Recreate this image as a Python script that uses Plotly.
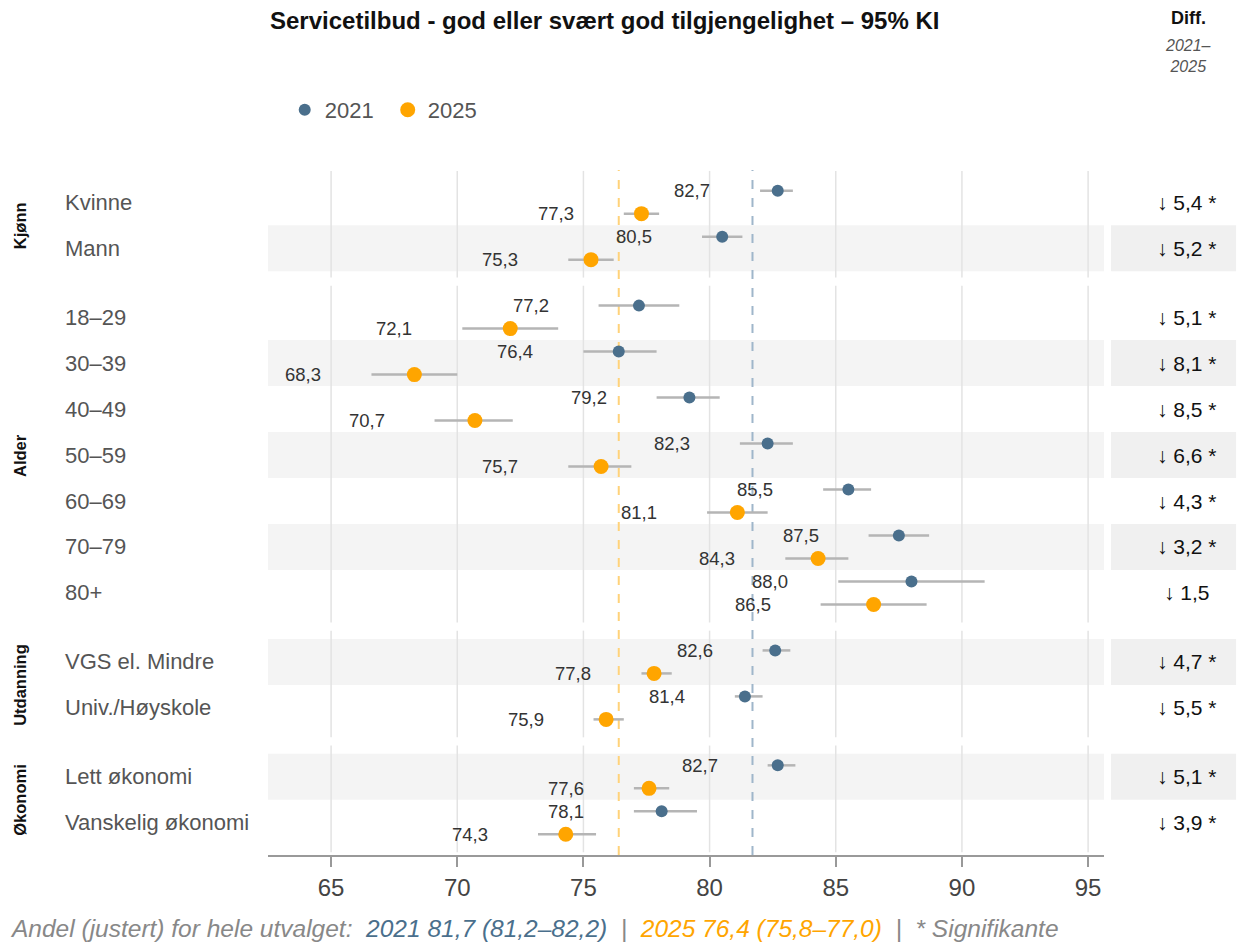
import plotly.graph_objects as go

# ---------------- data ----------------
categories = ["Kvinne", "Mann", "18–29", "30–39", "40–49", "50–59", "60–69", "70–79", "80+",
              "VGS el. Mindre", "Univ./Høyskole", "Lett økonomi", "Vanskelig økonomi"]
groups = ["Kjønn", "Kjønn", "Alder", "Alder", "Alder", "Alder", "Alder", "Alder", "Alder",
          "Utdanning", "Utdanning", "Økonomi", "Økonomi"]

v2021 = [82.7, 80.5, 77.2, 76.4, 79.2, 82.3, 85.5, 87.5, 88.0, 82.6, 81.4, 82.7, 78.1]
lo2021 = [82.0, 79.7, 75.6, 75.0, 77.9, 81.2, 84.5, 86.3, 85.1, 82.1, 81.0, 82.3, 77.0]
hi2021 = [83.3, 81.3, 78.8, 77.9, 80.4, 83.3, 86.4, 88.7, 90.9, 83.2, 82.1, 83.4, 79.5]

v2025 = [77.3, 75.3, 72.1, 68.3, 70.7, 75.7, 81.1, 84.3, 86.5, 77.8, 75.9, 77.6, 74.3]
lo2025 = [76.6, 74.4, 70.2, 66.6, 69.1, 74.4, 79.9, 83.0, 84.4, 77.3, 75.4, 77.0, 73.2]
hi2025 = [78.0, 76.2, 74.0, 70.0, 72.2, 76.9, 82.3, 85.5, 88.6, 78.5, 76.6, 78.4, 75.5]

diff_values = [5.4, 5.2, 5.1, 8.1, 8.5, 6.6, 4.3, 3.2, 1.5, 4.7, 5.5, 5.1, 3.9]
diff_signif = [True, True, True, True, True, True, True, True, False, True, True, True, True]

total_2021 = (81.7, 81.2, 82.2)
total_2025 = (76.4, 75.8, 77.0)

tick_values = [65, 70, 75, 80, 85, 90, 95]

# ---------------- style ----------------
C21 = "#4a6f8c"
C25 = "#FFA500"
CI_COLOR = "#b5b5b5"
BAND = "#f4f4f4"
FONT = "Liberation Sans, Arial, sans-serif"


def fmt(v):
    return f"{v:.1f}".replace(".", ",")


# row positions with gaps between groups
pos = []
gi = -1
prev = None
for i, g in enumerate(groups):
    if g != prev:
        gi += 1
        prev = g
    pos.append(i + 0.5 * gi)

OFF = 0.25
y21 = [p - OFF for p in pos]
y25 = [p + OFF for p in pos]

fig = go.Figure()


def ci_trace(lo, hi, ys):
    xs, yy = [], []
    for a, b, y in zip(lo, hi, ys):
        xs += [a, b, None]
        yy += [y, y, None]
    return go.Scatter(x=xs, y=yy, mode="lines", line=dict(color=CI_COLOR, width=2.5),
                      hoverinfo="skip", showlegend=False)


fig.add_trace(ci_trace(lo2021, hi2021, y21))
fig.add_trace(ci_trace(lo2025, hi2025, y25))

fig.add_trace(go.Scatter(x=v2021, y=y21, mode="markers", name="2021",
                         marker=dict(color=C21, size=12)))
fig.add_trace(go.Scatter(x=v2025, y=y25, mode="markers", name="2025",
                         marker=dict(color=C25, size=15)))

shapes = []
annotations = []

DIFF_X = 1.099

# bands (odd rows)
for i, p in enumerate(pos):
    if i % 2 == 1:
        shapes.append(dict(type="rect", xref="paper", yref="y", x0=0, x1=1,
                           y0=p - 0.5, y1=p + 0.5, fillcolor=BAND, line_width=0, layer="below"))
        shapes.append(dict(type="rect", xref="paper", yref="y", x0=1.0084, x1=1.158,
                           y0=p - 0.5, y1=p + 0.5, fillcolor="#f0f0f0", line_width=0, layer="below"))

# gridlines per group + group labels
group_names = []
for g in groups:
    if g not in group_names:
        group_names.append(g)
for g in group_names:
    ps = [p for p, gg in zip(pos, groups) if gg == g]
    for t in tick_values:
        shapes.append(dict(type="line", xref="x", yref="y", x0=t, x1=t,
                           y0=min(ps) - 0.68, y1=max(ps) + 0.64,
                           line=dict(color="#e3e3e3", width=1.5), layer="below"))
    annotations.append(dict(text=f"<b>{g}</b>", xref="paper", yref="y",
                            x=-0.2967, y=sum(ps) / len(ps), textangle=-90,
                            xanchor="center", yanchor="middle",
                            showarrow=False, font=dict(size=16.5, color="#111", family=FONT)))

# reference lines for total
shapes.append(dict(type="line", xref="x", yref="paper", x0=total_2025[0], x1=total_2025[0],
                   y0=0, y1=1, line=dict(color="#ffd27a", width=2, dash="dash"), layer="below"))
shapes.append(dict(type="line", xref="x", yref="paper", x0=total_2021[0], x1=total_2021[0],
                   y0=0, y1=1, line=dict(color="#9fb6ca", width=2, dash="dash"), layer="below"))

# row labels, value labels, diff column
for i, p in enumerate(pos):
    annotations.append(dict(text=categories[i], xref="paper", yref="y", x=-0.2452, y=p,
                            xanchor="left", showarrow=False,
                            font=dict(size=22, color="#555", family=FONT)))
    annotations.append(dict(text=fmt(v2021[i]), xref="x", yref="y", x=lo2021[i], y=y21[i],
                            xanchor="right", xshift=-48, showarrow=False,
                            font=dict(size=18.5, color="#333", family=FONT)))
    annotations.append(dict(text=fmt(v2025[i]), xref="x", yref="y", x=lo2025[i], y=y25[i],
                            xanchor="right", xshift=-48, showarrow=False,
                            font=dict(size=18.5, color="#333", family=FONT)))
    d = diff_values[i]
    arrow = "↓" if d > 0 else "↑"
    txt = f"{arrow} {fmt(abs(d))}" + (" *" if diff_signif[i] else "")
    annotations.append(dict(text=txt, xref="paper", yref="y", x=DIFF_X, y=p,
                            xanchor="center", showarrow=False,
                            font=dict(size=21, color="#111", family=FONT)))

# title and headers
annotations.append(dict(text="<b>Servicetilbud - god eller svært god tilgjengelighet – 95% KI</b>",
                        xref="paper", yref="paper", x=0, y=(855 - 20) / 685,
                        xanchor="left", yanchor="middle", showarrow=False,
                        font=dict(size=24, color="#111", family=FONT)))
annotations.append(dict(text="<b>Diff.</b>", xref="paper", yref="paper", x=1.1005,
                        y=(855 - 18) / 685, xanchor="center", yanchor="middle", showarrow=False,
                        font=dict(size=18, color="#111", family=FONT)))
annotations.append(dict(text="<i>2021–<br>2025</i>", xref="paper", yref="paper", x=1.1005,
                        y=(855 - 56) / 685, xanchor="center", yanchor="middle", showarrow=False,
                        font=dict(size=16, color="#555", family=FONT)))


def trip(t):
    return f"{fmt(t[0])} ({fmt(t[1])}–{fmt(t[2])})"


footer = ("<i>Andel (justert) for hele utvalget:  "
          f"<span style='color:{C21}'>2021 {trip(total_2021)}</span>  |  "
          f"<span style='color:{C25}'>2025 {trip(total_2025)}</span>  |  * Signifikante</i>")
annotations.append(dict(text=footer, xref="paper", yref="paper", x=-0.3115,
                        y=(855 - 928) / 685, xanchor="left", yanchor="middle",
                        showarrow=False, font=dict(size=24.5, color="#888", family=FONT)))

fig.update_layout(
    width=1237, height=944,
    margin=dict(l=268, r=133, t=170, b=89),
    paper_bgcolor="white", plot_bgcolor="white",
    font=dict(family=FONT),
    shapes=shapes, annotations=annotations,
    showlegend=True,
    legend=dict(orientation="h", x=0.02, y=(855 - 110) / 685, xanchor="left", yanchor="middle",
                font=dict(size=22, color="#555", family=FONT), itemsizing="trace",
                entrywidth=58),
    xaxis=dict(range=[62.5, 95.63], tickvals=tick_values, showgrid=False, zeroline=False,
               showline=True, linecolor="#999", linewidth=1.5, ticks="outside", ticklen=10,
               tickcolor="#999", tickwidth=1.5, tickfont=dict(size=24, color="#444")),
    yaxis=dict(range=[14.2, -0.7], showticklabels=False, showgrid=False, zeroline=False,
               showline=False, ticks=""),
)

fig.write_html("out.html", config={"displayModeBar": False},
               post_script="document.body.style.margin='0';document.body.style.overflow='hidden';")
